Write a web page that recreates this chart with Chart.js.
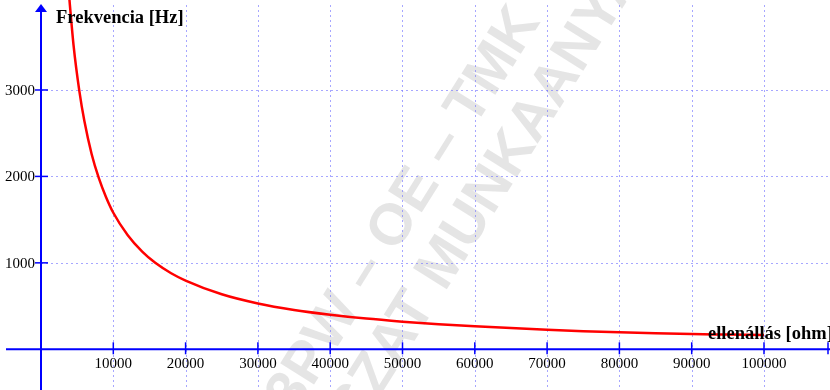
<!DOCTYPE html>
<html lang="hu">
<head>
<meta charset="UTF-8" />
<title>Frekvencia - ellenállás</title>
<script src="https://cdn.jsdelivr.net/npm/chart.js"></script>
<style>
  body { margin: 0; background: #ffffff; }
  #chart { display: block; }
</style>
</head>
<body>
<canvas id="chart" width="830" height="390"></canvas>
<script>
// values
const resistance = [3800, 4000, 4500, 5300, 6000, 7000, 8000, 9000, 10000, 12000, 14000, 15800,
  18000, 20000, 25000, 30000, 35000, 40000, 45000, 50000, 55000, 60000, 65000, 70000, 75000,
  80000, 85000, 90000, 95000, 100000];
const frequency = [4180, 3980, 3520, 2990, 2640, 2260, 1980, 1760, 1580, 1320, 1130, 1000,
  880, 795, 636, 530, 455, 400, 355, 320, 290, 266, 245, 226, 210,
  196, 185, 176, 170, 164];

const xTicks = [10000, 20000, 30000, 40000, 50000, 60000, 70000, 80000, 90000, 100000];
const yTicks = [1000, 2000, 3000];
const xTitle = 'ellenállás [ohm]';
const yTitle = 'Frekvencia [Hz]';

const points = resistance.map((r, i) => ({ x: r, y: frequency[i] }));

// watermark behind everything
const watermark = {
  id: 'watermark',
  beforeDraw(chart) {
    const ctx = chart.ctx;
    ctx.save();
    ctx.fillStyle = 'rgba(190,190,190,0.4)';
    ctx.font = 'bold 58px "Liberation Sans", Arial, sans-serif';
    ctx.translate(295, 415);
    ctx.rotate(-58 * Math.PI / 180);
    ctx.fillText('3PW – OE – TMK', 0, 0);
    ctx.fillText('SZAT MUNKAANYAG', 20, 62);
    ctx.restore();
  }
};

// grid, axes, ticks and labels drawn at the data origin
const axes = {
  id: 'axes',
  beforeDatasetsDraw(chart) {
    const ctx = chart.ctx;
    const xs = chart.scales.x, ys = chart.scales.y;
    const x0 = xs.getPixelForValue(0), y0 = ys.getPixelForValue(0);
    const W = chart.width, H = chart.height;

    ctx.save();
    ctx.strokeStyle = 'rgba(120,120,255,0.65)';
    ctx.lineWidth = 1;
    ctx.setLineDash([2, 3]);
    xTicks.forEach(v => {
      const px = Math.round(xs.getPixelForValue(v)) + 0.5;
      ctx.beginPath(); ctx.moveTo(px, 5); ctx.lineTo(px, H); ctx.stroke();
    });
    yTicks.forEach(v => {
      const py = Math.round(ys.getPixelForValue(v)) + 0.5;
      ctx.beginPath(); ctx.moveTo(x0, py); ctx.lineTo(W, py); ctx.stroke();
    });
    ctx.setLineDash([]);

    // axis lines
    ctx.strokeStyle = '#0000ff';
    ctx.fillStyle = '#0000ff';
    ctx.lineWidth = 2;
    ctx.beginPath(); ctx.moveTo(x0, H); ctx.lineTo(x0, 10); ctx.stroke();
    ctx.beginPath(); ctx.moveTo(6, y0); ctx.lineTo(W, y0); ctx.stroke();
    // arrow head on the y axis
    ctx.beginPath(); ctx.moveTo(x0, 4); ctx.lineTo(x0 - 6, 12); ctx.lineTo(x0 + 6, 12); ctx.closePath(); ctx.fill();

    // tick marks
    ctx.lineWidth = 1.5;
    xTicks.forEach(v => {
      const px = xs.getPixelForValue(v);
      ctx.beginPath(); ctx.moveTo(px, y0 - 7); ctx.lineTo(px, y0 + 5); ctx.stroke();
    });
    ctx.beginPath(); ctx.moveTo(W - 2, y0 - 7); ctx.lineTo(W - 2, y0 + 5); ctx.stroke();
    yTicks.forEach(v => {
      const py = ys.getPixelForValue(v);
      ctx.beginPath(); ctx.moveTo(x0 - 6, py); ctx.lineTo(x0 + 7, py); ctx.stroke();
    });

    // tick labels
    ctx.fillStyle = '#000000';
    ctx.font = '15px "Liberation Serif", "Times New Roman", serif';
    ctx.textAlign = 'center';
    ctx.textBaseline = 'alphabetic';
    xTicks.forEach(v => ctx.fillText(String(v), xs.getPixelForValue(v), y0 + 19));
    ctx.textAlign = 'right';
    ctx.textBaseline = 'middle';
    yTicks.forEach(v => ctx.fillText(String(v), x0 - 6, ys.getPixelForValue(v) + 1));
    ctx.restore();
  },
  afterDatasetsDraw(chart) {
    const ctx = chart.ctx;
    const x0 = chart.scales.x.getPixelForValue(0), y0 = chart.scales.y.getPixelForValue(0);
    ctx.save();
    ctx.fillStyle = '#000000';
    ctx.font = 'bold 18.5px "Liberation Serif", "Times New Roman", serif';
    ctx.textAlign = 'left';
    ctx.textBaseline = 'alphabetic';
    ctx.fillText(yTitle, x0 + 15, 23);
    ctx.fillText(xTitle, 708, y0 - 10);
    ctx.restore();
  }
};

new Chart(document.getElementById('chart'), {
  type: 'line',
  data: {
    datasets: [{
      data: points,
      borderColor: '#ff0000',
      borderWidth: 2.5,
      pointRadius: 0,
      cubicInterpolationMode: 'monotone',
      fill: false
    }]
  },
  options: {
    responsive: false,
    animation: false,
    devicePixelRatio: 1,
    layout: { padding: 0 },
    scales: {
      x: { type: 'linear', min: -5671, max: 109129, display: false },
      y: { type: 'linear', min: -471, max: 4041, display: false }
    },
    plugins: {
      legend: { display: false },
      tooltip: { enabled: false }
    }
  },
  plugins: [watermark, axes]
});
</script>
</body>
</html>
